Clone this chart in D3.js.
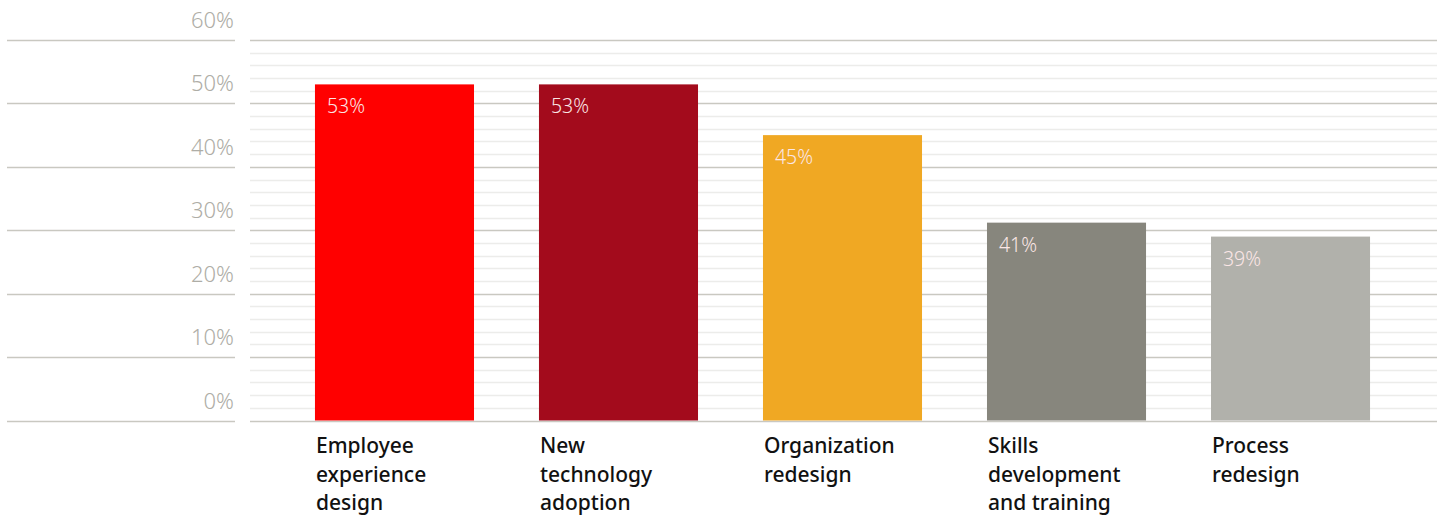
<!DOCTYPE html>
<html>
<head>
<meta charset="utf-8">
<script src="https://cdn.jsdelivr.net/npm/d3@7"></script>
<style>
  html, body { margin: 0; padding: 0; background: #fff; }
  svg { display: block; }
  .tick-label { font-family: "Noto Sans", sans-serif; font-weight: 300; fill: #aeada6; font-size: 22px; }
  .val-label { font-family: "Noto Sans", sans-serif; font-weight: 300; fill: #fbe6e6; font-size: 19.5px; }
  .cat-label { font-family: "Noto Sans", sans-serif; font-weight: 500; fill: #111; font-size: 21px; }
</style>
</head>
<body>
<svg id="chart" width="1445" height="517"></svg>
<script>
const categories = [
  ["Employee", "experience", "design"],
  ["New", "technology", "adoption"],
  ["Organization", "redesign"],
  ["Skills", "development", "and training"],
  ["Process", "redesign"]
];
const values = [53, 53, 45, 31.2, 29];
const valueLabels = ["53%", "53%", "45%", "41%", "39%"];
const barColors = ["#ff0000", "#a30b1c", "#f0a823", "#87867d", "#b1b1ab"];
const majorTicks = [0, 10, 20, 30, 40, 50, 60];
const tickLabels = ["0%", "10%", "20%", "30%", "40%", "50%", "60%"];

const svg = d3.select("#chart");
const y = d3.scaleLinear().domain([0, 60]).range([420.5, 40]);
const x = d3.scaleBand().domain(d3.range(values.length)).range([250, 1435])
  .paddingInner(0.29).paddingOuter(0.29);

// minor gridlines (every 2%)
const minor = d3.range(0, 61, 2).filter(v => v % 10 !== 0);
svg.append("g").selectAll("line").data(minor).join("line")
  .attr("x1", 250).attr("x2", 1437)
  .attr("y1", d => Math.round(y(d)) + 0.5).attr("y2", d => Math.round(y(d)) + 0.5)
  .attr("stroke", "#ececea").attr("stroke-width", 1.5);

// major gridlines - plot area
svg.append("g").selectAll("line").data(majorTicks).join("line")
  .attr("x1", 250).attr("x2", 1437)
  .attr("y1", d => Math.round(y(d)) + 0.5).attr("y2", d => Math.round(y(d)) + 0.5)
  .attr("stroke", "#c9c8c1").attr("stroke-width", 1.5);

// major gridlines - axis area
svg.append("g").selectAll("line").data(majorTicks).join("line")
  .attr("x1", 7).attr("x2", 235)
  .attr("y1", d => Math.round(y(d)) + 0.5).attr("y2", d => Math.round(y(d)) + 0.5)
  .attr("stroke", "#c9c8c1").attr("stroke-width", 1.5);

// tick labels
svg.append("g").selectAll("text").data(majorTicks).join("text")
  .attr("class", "tick-label")
  .attr("x", 234).attr("y", d => y(d) - 12)
  .attr("text-anchor", "end")
  .text((d, i) => tickLabels[i]);

// bars
svg.append("g").selectAll("rect").data(values).join("rect")
  .attr("x", (d, i) => x(i)).attr("width", x.bandwidth())
  .attr("y", d => y(d)).attr("height", d => y(0) - y(d))
  .attr("fill", (d, i) => barColors[i]);

// value labels
svg.append("g").selectAll("text").data(values).join("text")
  .attr("class", "val-label")
  .attr("x", (d, i) => x(i) + 12).attr("y", d => y(d) + 29)
  .text((d, i) => valueLabels[i]);

// category labels
const cat = svg.append("g").selectAll("text").data(categories).join("text")
  .attr("class", "cat-label")
  .attr("x", (d, i) => x(i) + 1).attr("y", 453);
cat.selectAll("tspan").data(d => d).join("tspan")
  .attr("x", function() { return d3.select(this.parentNode).attr("x"); })
  .attr("dy", (d, i) => i === 0 ? 0 : 28.5)
  .text(d => d);
</script>
</body>
</html>
